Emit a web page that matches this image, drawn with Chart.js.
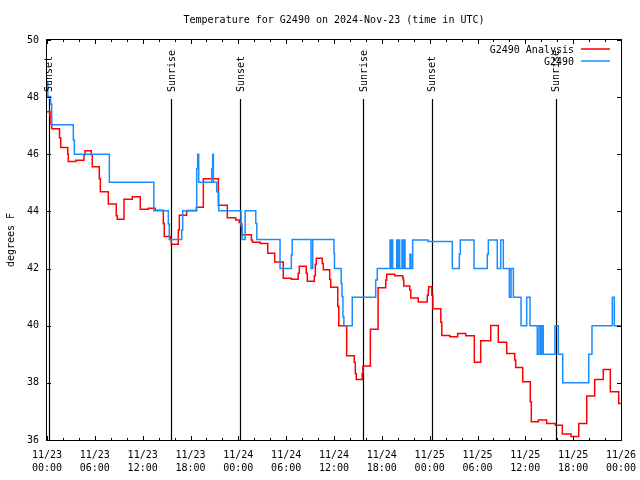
<!DOCTYPE html>
<html>
<head>
<meta charset="utf-8">
<title>Temperature for G2490</title>
<script src="https://cdn.jsdelivr.net/npm/chart.js@4.4.1/dist/chart.umd.min.js"></script>
<style>
  html, body { margin: 0; padding: 0; background: #fff; }
  canvas { display: block; }
</style>
</head>
<body>
<canvas id="chartTemp" width="640" height="480"></canvas>
<script>
// all times are hours since 2024-11-23 00:00 UTC

const analysisHours = [0, 0.38, 0.5, 0.59, 1.57, 1.72, 2.6, 2.67, 3.64, 4.64, 4.77, 5.56, 5.68, 6.56, 6.69, 7.69,
  8.69, 8.82, 9.66, 10.7, 11.7, 12.71, 13.58, 14.59, 14.71, 15.47, 15.59, 16.47, 16.6, 17.52, 18.73, 19.61,
  21.49, 22.62, 23.67, 24.12, 24.3, 24.43, 25.64, 25.77, 26.75, 27.69, 28.56, 29.64, 30.64, 31.51, 31.65,
  32.52, 32.65, 33.53, 33.66, 33.78, 34.53, 34.66, 35.46, 35.59, 36.47, 36.6, 37.59, 38.54, 38.67, 38.79,
  39.54, 39.63, 40.56, 41.53, 42.49, 42.61, 43.62, 44.62, 44.7, 44.75, 45.5, 45.63, 46.57, 47.7, 47.83,
  47.88, 48.27, 48.4, 49.4, 49.52, 50.53, 51.51, 52.52, 53.6, 54.4, 55.66, 56.61, 57.66, 58.67, 58.79,
  59.67, 60.62, 60.75, 61.63, 62.68, 63.76, 64.64, 65.73, 66.7, 67.7, 68.7, 69.78, 70.66, 71.71, 72];
const analysisTemps = [47.49, 47.32, 47.05, 46.89, 46.58, 46.24, 46.0, 45.75, 45.79, 45.98, 46.12, 45.98, 45.56,
  45.14, 44.69, 44.26, 43.85, 43.73, 44.43, 44.51, 44.08, 44.11, 44.04, 43.58, 43.12, 43.02, 42.85, 43.35,
  43.87, 44.03, 44.15, 45.14, 44.22, 43.78, 43.7, 43.61, 43.58, 43.18, 43.0, 42.92, 42.88, 42.54, 42.23,
  41.66, 41.63, 41.84, 42.08, 41.84, 41.56, 41.75, 42.15, 42.36, 42.18, 41.96, 41.63, 41.35, 40.67, 40.0,
  38.95, 38.72, 38.33, 38.12, 38.33, 38.59, 39.88, 41.33, 41.6, 41.8, 41.75, 41.68, 41.6, 41.39, 41.25,
  40.97, 40.83, 41.07, 41.25, 41.36, 41.07, 40.59, 40.12, 39.66, 39.61, 39.73, 39.65, 38.72, 39.47, 40.01,
  39.42, 39.03, 38.8, 38.54, 38.04, 37.34, 36.64, 36.7, 36.58, 36.52, 36.21, 36.12, 36.58, 37.54, 38.12,
  38.47, 37.69, 37.28, 37.28];

const obsHours = [0, 0.1, 0.46, 0.59, 3.3, 3.43, 7.82, 13.4, 15.22, 15.34, 16.9, 17.02, 18.78, 18.9, 19.03,
  20.66, 20.79, 20.87, 21.29, 21.54, 24.34, 24.47, 24.85, 26.19, 26.32, 29.23, 30.65, 30.75, 33.12, 33.33,
  36.0, 36.06, 36.9, 37.0, 37.12, 37.24, 38.29, 41.23, 41.43, 43.03, 43.11, 43.24, 43.36, 43.87, 43.99,
  44.12, 44.24, 44.53, 44.66, 44.78, 44.91, 45.53, 45.66, 45.87, 47.8, 50.84, 51.72, 51.84, 53.56, 55.23,
  55.36, 56.48, 56.91, 57.24, 58.0, 58.21, 58.5, 59.46, 60.17, 60.59, 61.5, 61.71, 61.92, 62.05, 62.25,
  63.72, 64.14, 64.69, 67.95, 68.36, 70.91, 71.16, 72];
const obsTemps = [48.55, 48.02, 47.76, 47.03, 46.5, 46.0, 45.02, 44.02, 43.56, 43.02, 43.35, 44.02, 45.5, 46.0,
  45.02, 45.5, 46.0, 45.02, 44.69, 44.02, 43.5, 43.02, 44.02, 43.58, 43.02, 42.0, 42.48, 43.02, 42.0, 43.02,
  42.53, 42.0, 41.48, 41.02, 40.31, 40.0, 41.0, 41.6, 42.0, 43.0, 42.0, 43.0, 42.0, 43.0, 42.0, 43.0, 42.0,
  43.0, 42.0, 43.0, 42.0, 42.5, 42.0, 43.0, 42.95, 42.0, 42.5, 43.0, 42.0, 42.5, 43.0, 42.0, 43.0, 42.0,
  41.0, 42.0, 41.0, 40.0, 41.0, 40.0, 39.0, 40.0, 39.0, 40.0, 39.0, 40.0, 39.0, 38.0, 39.0, 40.0, 41.0,
  40.0, 40.0];

const sunHours  = [0.21, 15.6, 24.26, 39.7, 48.24, 63.8];
const sunLabels = ['Sunset', 'Sunrise', 'Sunset', 'Sunrise', 'Sunset', 'Sunrise'];

const xTickLabels = [
  ['11/23', '00:00'], ['11/23', '06:00'], ['11/23', '12:00'], ['11/23', '18:00'],
  ['11/24', '00:00'], ['11/24', '06:00'], ['11/24', '12:00'], ['11/24', '18:00'],
  ['11/25', '00:00'], ['11/25', '06:00'], ['11/25', '12:00'], ['11/25', '18:00'],
  ['11/26', '00:00']
];
const yTicks = [36, 38, 40, 42, 44, 46, 48, 50];

const seriesNames  = ['G2490 Analysis', 'G2490'];
const seriesColors = ['#ff0000', '#1a8cff'];
const titleText = 'Temperature for G2490 on 2024-Nov-23 (time in UTC)';
const yTitle = 'degrees F';

const FAMILY = "'DejaVu Sans Mono', 'Liberation Mono', monospace";
const FONT = '10px ' + FAMILY;

function crisp(v) { return Math.round(v) + 0.5; }

const gnuFrame = {
  id: 'gnuFrame',
  beforeDatasetsDraw(chart) {
    const { ctx, chartArea: a, scales: { x } } = chart;
    ctx.save();
    ctx.strokeStyle = '#000';
    ctx.lineWidth = 1.2;
    sunHours.forEach(h => {
      const px = crisp(x.getPixelForValue(h));
      ctx.beginPath();
      ctx.moveTo(px, a.top + 59);
      ctx.lineTo(px, a.bottom);
      ctx.stroke();
    });
    ctx.restore();
  },
  afterDraw(chart) {
    const { ctx, chartArea: a, scales: { x, y } } = chart;
    ctx.save();
    ctx.strokeStyle = '#000';
    ctx.fillStyle = '#000';
    ctx.lineWidth = 1;

    // border
    ctx.strokeRect(crisp(a.left) - 1, crisp(a.top) - 1, Math.round(a.right - a.left) + 1, Math.round(a.bottom - a.top) + 1);

    // inward tick marks, mirrored
    ctx.beginPath();
    for (let h = 0; h <= 72; h += 2) {
      const px = crisp(x.getPixelForValue(h));
      const len = h % 6 === 0 ? 4 : 2;
      ctx.moveTo(px, a.bottom); ctx.lineTo(px, a.bottom - len);
      ctx.moveTo(px, a.top);    ctx.lineTo(px, a.top + len);
    }
    yTicks.forEach(v => {
      const py = crisp(y.getPixelForValue(v));
      ctx.moveTo(a.left, py);  ctx.lineTo(a.left + 4, py);
      ctx.moveTo(a.right, py); ctx.lineTo(a.right - 4, py);
    });
    ctx.stroke();

    ctx.font = FONT;

    // sunrise / sunset labels
    ctx.textAlign = 'left';
    ctx.textBaseline = 'middle';
    sunHours.forEach((h, i) => {
      const px = x.getPixelForValue(h);
      ctx.save();
      ctx.translate(px + 1, a.top + 52);
      ctx.rotate(-Math.PI / 2);
      ctx.fillText(sunLabels[i], 0, 0);
      ctx.restore();
    });

    // title
    ctx.textAlign = 'center';
    ctx.fillText(titleText, (a.left + a.right) / 2, 20);

    // y title
    ctx.save();
    ctx.translate(11, (a.top + a.bottom) / 2);
    ctx.rotate(-Math.PI / 2);
    ctx.fillText(yTitle, 0, 0);
    ctx.restore();

    // key, top right inside the plot
    ctx.textAlign = 'right';
    ctx.lineWidth = 1.5;
    seriesNames.forEach((name, i) => {
      const ly = a.top + 10 + i * 12;
      ctx.fillStyle = '#000';
      ctx.fillText(name, a.right - 47, ly);
      ctx.strokeStyle = seriesColors[i];
      ctx.beginPath();
      ctx.moveTo(a.right - 40, Math.round(ly - 1));
      ctx.lineTo(a.right - 11, Math.round(ly - 1));
      ctx.stroke();
    });
    ctx.restore();
  }
};

function makeSeries(hours, temps, i, order) {
  return {
    label: seriesNames[i],
    data: hours.map((h, k) => ({ x: h, y: temps[k] })),
    borderColor: seriesColors[i],
    backgroundColor: seriesColors[i],
    borderWidth: 1.5,
    pointRadius: 0,
    stepped: true,
    fill: false,
    order
  };
}

const ctx = document.getElementById('chartTemp').getContext('2d');
new Chart(ctx, {
  type: 'line',
  data: {
    datasets: [
      makeSeries(analysisHours, analysisTemps, 0, 2),
      makeSeries(obsHours, obsTemps, 1, 1)
    ]
  },
  options: {
    responsive: false,
    animation: false,
    devicePixelRatio: 1,
    layout: { padding: { top: 40, right: 19, bottom: 0, left: 0 } },
    plugins: {
      legend: { display: false },
      tooltip: { enabled: false },
      title: { display: false }
    },
    scales: {
      x: {
        type: 'linear',
        min: 0,
        max: 72,
        grid: { display: false, drawTicks: false },
        border: { display: false },
        afterFit(scale) {
          scale.height = 40;
          scale.paddingLeft = 0;
          scale.paddingRight = 0;
        },
        afterBuildTicks(scale) {
          scale.ticks = xTickLabels.map((_, i) => ({ value: i * 6 }));
        },
        ticks: {
          color: '#000',
          padding: 9,
          maxRotation: 0,
          autoSkip: false,
          font: { family: FAMILY, size: 10, lineHeight: 1.3 },
          callback: (v) => xTickLabels[Math.round(v / 6)]
        }
      },
      y: {
        type: 'linear',
        min: 36,
        max: 50,
        grid: { display: false, drawTicks: false },
        border: { display: false },
        afterFit(scale) {
          scale.width = 47;
          scale.paddingTop = 0;
          scale.paddingBottom = 0;
        },
        afterBuildTicks(scale) {
          scale.ticks = yTicks.map(v => ({ value: v }));
        },
        ticks: {
          color: '#000',
          padding: 8,
          font: { family: FAMILY, size: 10 },
          callback: (v) => String(v)
        }
      }
    }
  },
  plugins: [gnuFrame]
});
</script>
</body>
</html>
